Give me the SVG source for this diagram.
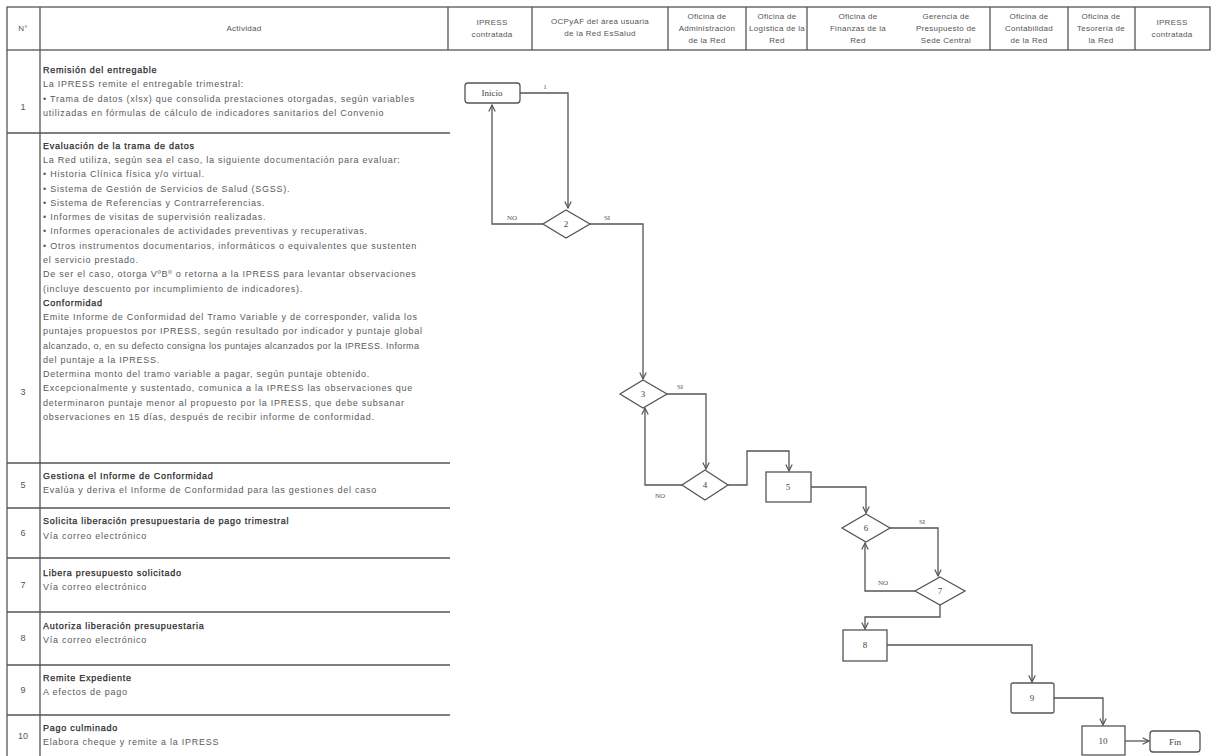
<svg xmlns="http://www.w3.org/2000/svg" width="1212" height="756" viewBox="0 0 1212 756">
<style>
.grid{stroke:#555;stroke-width:1.3;fill:none}
.hd{font-family:"Liberation Sans",Arial,sans-serif;font-size:8px;fill:#555;text-anchor:middle;letter-spacing:0.3px}
.tx{font-family:"Liberation Sans",Arial,sans-serif;font-size:9px;fill:#5a5a5a;letter-spacing:0.75px}
.tt{font-family:"Liberation Sans",Arial,sans-serif;font-size:9px;fill:#2a2a2a;stroke:#2a2a2a;stroke-width:0.25;letter-spacing:0.75px}
.num{font-family:"Liberation Sans",Arial,sans-serif;font-size:9px;fill:#555;text-anchor:middle}
.shape{fill:#fff;stroke:#555;stroke-width:1.3}
.nl{font-family:"Liberation Serif","Times New Roman",serif;font-size:9px;fill:#444;text-anchor:middle}
.cl{font-family:"Liberation Serif","Times New Roman",serif;font-size:7px;fill:#555;text-anchor:middle}
.con{fill:none;stroke:#555;stroke-width:1.3}
</style>
<defs>
<marker id="arr" viewBox="0 0 10 10" refX="9" refY="5" markerWidth="8" markerHeight="8" orient="auto" markerUnits="userSpaceOnUse">
<path d="M1,1 L9,5 L1,9" fill="none" stroke="#555" stroke-width="1.5"/>
</marker>
</defs>
<rect width="1212" height="756" fill="#fff"/>

<g id="header">
<rect class="grid" x="7" y="7" width="1203" height="43"/>
<line class="grid" x1="40" y1="7" x2="40" y2="50"/>
<line class="grid" x1="448" y1="7" x2="448" y2="50"/>
<line class="grid" x1="532" y1="7" x2="532" y2="50"/>
<line class="grid" x1="668" y1="7" x2="668" y2="50"/>
<line class="grid" x1="746" y1="7" x2="746" y2="50"/>
<line class="grid" x1="807" y1="7" x2="807" y2="50"/>
<line class="grid" x1="990" y1="7" x2="990" y2="50"/>
<line class="grid" x1="1068" y1="7" x2="1068" y2="50"/>
<line class="grid" x1="1135" y1="7" x2="1135" y2="50"/>
<text class="hd" x="23" y="31">N°</text>
<text class="hd" x="244" y="31">Actividad</text>
<text class="hd" x="492" y="25">IPRESS</text><text class="hd" x="492" y="37">contratada</text>
<text class="hd" x="600" y="24">OCPyAF del área usuaria</text><text class="hd" x="600" y="36">de la Red EsSalud</text>
<text class="hd" x="707" y="19">Oficina de</text><text class="hd" x="707" y="31">Administración</text><text class="hd" x="707" y="43">de la Red</text>
<text class="hd" x="777" y="19">Oficina de</text><text class="hd" x="777" y="31">Logística de la</text><text class="hd" x="777" y="43">Red</text>
<text class="hd" x="858" y="19">Oficina de</text><text class="hd" x="858" y="31">Finanzas de la</text><text class="hd" x="858" y="43">Red</text>
<text class="hd" x="946" y="19">Gerencia de</text><text class="hd" x="946" y="31">Presupuesto de</text><text class="hd" x="946" y="43">Sede Central</text>
<text class="hd" x="1029" y="19">Oficina de</text><text class="hd" x="1029" y="31">Contabilidad</text><text class="hd" x="1029" y="43">de la Red</text>
<text class="hd" x="1101" y="19">Oficina de</text><text class="hd" x="1101" y="31">Tesorería de</text><text class="hd" x="1101" y="43">la Red</text>
<text class="hd" x="1172" y="25">IPRESS</text><text class="hd" x="1172" y="37">contratada</text>
</g>

<g id="table">
<line class="grid" x1="7" y1="50" x2="7" y2="756"/>
<line class="grid" x1="40" y1="50" x2="40" y2="756"/>
<line class="grid" x1="7" y1="133" x2="450" y2="133"/>
<line class="grid" x1="7" y1="463" x2="450" y2="463"/>
<line class="grid" x1="7" y1="508" x2="450" y2="508"/>
<line class="grid" x1="7" y1="558" x2="450" y2="558"/>
<line class="grid" x1="7" y1="612" x2="450" y2="612"/>
<line class="grid" x1="7" y1="665" x2="450" y2="665"/>
<line class="grid" x1="7" y1="715" x2="450" y2="715"/>

<text class="num" x="23" y="110">1</text>
<text class="tt" x="43" y="73">Remisión del entregable</text>
<text class="tx" x="43" y="87">La IPRESS remite el entregable trimestral:</text>
<text class="tx" x="43" y="102">• Trama de datos (xlsx) que consolida prestaciones otorgadas, según variables</text>
<text class="tx" x="43" y="116">utilizadas en fórmulas de cálculo de indicadores sanitarios del Convenio</text>

<text class="num" x="23" y="395">3</text>
<text class="tt" x="43" y="149">Evaluación de la trama de datos</text>
<text class="tx" x="43" y="163">La Red utiliza, según sea el caso, la siguiente documentación para evaluar:</text>
<text class="tx" x="43" y="177">• Historia Clínica física y/o virtual.</text>
<text class="tx" x="43" y="192">• Sistema de Gestión de Servicios de Salud (SGSS).</text>
<text class="tx" x="43" y="206">• Sistema de Referencias y Contrarreferencias.</text>
<text class="tx" x="43" y="220">• Informes de visitas de supervisión realizadas.</text>
<text class="tx" x="43" y="234">• Informes operacionales de actividades preventivas y recuperativas.</text>
<text class="tx" x="43" y="249">• Otros instrumentos documentarios, informáticos o equivalentes que sustenten</text>
<text class="tx" x="43" y="263">el servicio prestado.</text>
<text class="tx" x="43" y="277">De ser el caso, otorga VºBº o retorna a la IPRESS para levantar observaciones</text>
<text class="tx" x="43" y="292">(incluye descuento por incumplimiento de indicadores).</text>
<text class="tt" x="43" y="306">Conformidad</text>
<text class="tx" x="43" y="320">Emite Informe de Conformidad del Tramo Variable y de corresponder, valida los</text>
<text class="tx" x="43" y="334">puntajes propuestos por IPRESS, según resultado por indicador y puntaje global</text>
<text class="tx" x="43" y="349" style="letter-spacing:0.4px">alcanzado, o, en su defecto consigna los puntajes alcanzados por la IPRESS. Informa</text>
<text class="tx" x="43" y="363">del puntaje a la IPRESS.</text>
<text class="tx" x="43" y="377">Determina monto del tramo variable a pagar, según puntaje obtenido.</text>
<text class="tx" x="43" y="391">Excepcionalmente y sustentado, comunica a la IPRESS las observaciones que</text>
<text class="tx" x="43" y="406">determinaron puntaje menor al propuesto por la IPRESS, que debe subsanar</text>
<text class="tx" x="43" y="420">observaciones en 15 días, después de recibir informe de conformidad.</text>

<text class="num" x="23" y="488">5</text>
<text class="tt" x="43" y="479">Gestiona el Informe de Conformidad</text>
<text class="tx" x="43" y="493">Evalúa y deriva el Informe de Conformidad para las gestiones del caso</text>

<text class="num" x="23" y="536">6</text>
<text class="tt" x="43" y="524">Solicita liberación presupuestaria de pago trimestral</text>
<text class="tx" x="43" y="539">Vía correo electrónico</text>

<text class="num" x="23" y="588">7</text>
<text class="tt" x="43" y="576">Libera presupuesto solicitado</text>
<text class="tx" x="43" y="590">Vía correo electrónico</text>

<text class="num" x="23" y="641">8</text>
<text class="tt" x="43" y="629">Autoriza liberación presupuestaria</text>
<text class="tx" x="43" y="643">Vía correo electrónico</text>

<text class="num" x="23" y="693">9</text>
<text class="tt" x="43" y="681">Remite Expediente</text>
<text class="tx" x="43" y="695">A efectos de pago</text>

<text class="num" x="23" y="739">10</text>
<text class="tt" x="43" y="731">Pago culminado</text>
<text class="tx" x="43" y="745">Elabora cheque y remite a la IPRESS</text>
</g>

<g id="connectors">
<polyline class="con" points="520,93 568,93 568,208" marker-end="url(#arr)"/>
<text class="cl" x="545" y="89">1</text>
<polyline class="con" points="543,224 492,224 492,105" marker-end="url(#arr)"/>
<text class="cl" x="512" y="220">NO</text>
<polyline class="con" points="590,224 643,224 643,379" marker-end="url(#arr)"/>
<text class="cl" x="607" y="220">SI</text>
<polyline class="con" points="667,394 706,394 706,469" marker-end="url(#arr)"/>
<text class="cl" x="680" y="389">SI</text>
<polyline class="con" points="682,485 645,485 645,408" marker-end="url(#arr)"/>
<text class="cl" x="660" y="498">NO</text>
<polyline class="con" points="728,485 747,485 747,451 789,451 789,471" marker-end="url(#arr)"/>
<polyline class="con" points="811,487 866,487 866,513" marker-end="url(#arr)"/>
<polyline class="con" points="890,528 938,528 938,576" marker-end="url(#arr)"/>
<text class="cl" x="922" y="524">SI</text>
<polyline class="con" points="915,591 865,591 865,543" marker-end="url(#arr)"/>
<text class="cl" x="883" y="585">NO</text>
<polyline class="con" points="940,605 940,617 865,617 865,629" marker-end="url(#arr)"/>
<polyline class="con" points="887,645 1032,645 1032,682" marker-end="url(#arr)"/>
<polyline class="con" points="1054,698 1103,698 1103,725" marker-end="url(#arr)"/>
<polyline class="con" points="1125,741 1149,741" marker-end="url(#arr)"/>
</g>

<g id="node-inicio"><rect class="shape" x="465" y="83" width="55" height="20" rx="3"/><text class="nl" x="492" y="96">Inicio</text></g>
<g id="node-2"><polygon class="shape" points="566,210 590,224 566,238 543,224"/><text class="nl" x="566" y="227">2</text></g>
<g id="node-3"><polygon class="shape" points="643,380 667,394 643,408 620,394"/><text class="nl" x="643" y="397">3</text></g>
<g id="node-4"><polygon class="shape" points="705,470 728,485 705,500 682,485"/><text class="nl" x="705" y="488">4</text></g>
<g id="node-5"><rect class="shape" x="766" y="472" width="45" height="30"/><text class="nl" x="788" y="490">5</text></g>
<g id="node-6"><polygon class="shape" points="866,514 890,528 866,542 842,528"/><text class="nl" x="866" y="531">6</text></g>
<g id="node-7"><polygon class="shape" points="940,577 965,591 940,605 915,591"/><text class="nl" x="940" y="594">7</text></g>
<g id="node-8"><rect class="shape" x="843" y="630" width="44" height="31"/><text class="nl" x="865" y="648">8</text></g>
<g id="node-9"><rect class="shape" x="1011" y="683" width="43" height="30" rx="2"/><text class="nl" x="1032" y="701">9</text></g>
<g id="node-10"><rect class="shape" x="1082" y="726" width="43" height="29"/><text class="nl" x="1103" y="744">10</text></g>
<g id="node-fin"><rect class="shape" x="1150" y="731" width="50" height="21" rx="3"/><text class="nl" x="1175" y="745">Fin</text></g>
</svg>
